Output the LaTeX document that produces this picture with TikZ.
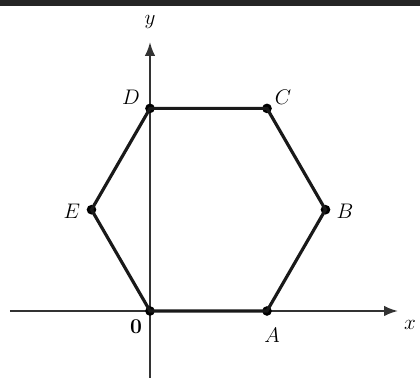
\documentclass[tikz,border=0pt]{standalone}
\usetikzlibrary{arrows.meta,positioning}

\begin{document}
\begin{tikzpicture}[x=0.02cm, y=0.02cm, >=Latex, font=\large,
	   pt/.style={circle, fill=black, inner sep=0pt, minimum size=5.5pt},
	   lab/.style={font=\large, inner sep=1pt},
	   ax/.style={->, draw=black!80, line width=1.1pt},
	   hex/.style={draw=black!90, line width=1.8pt, line join=miter}]
	  \useasboundingbox (-150,-67) rectangle (270,311);
	  \fill[black!85] (-150,305) rectangle (270,311);
	  % axes
	  \coordinate (xl) at (-140,0);
	  \coordinate (xr) at (248,0);
	  \coordinate (yb) at (0,-67);
	  \coordinate (yt) at (0,269);
	  \draw[ax] (xl) -- (xr);
	  \draw[ax] (yb) -- (yt);
	  \node[lab] (xlab) at (260,-14) {$x$};
	  \node[lab] (ylab) at (0,289) {$y$};
	  % hexagon
	  \node[pt] (O) at (0,0) {};
	  \node[pt] (A) at (117,0) {};
	  \node[pt] (B) at (175.5,101.3) {};
	  \node[pt] (C) at (117,202.6) {};
	  \node[pt] (D) at (0,202.6) {};
	  \node[pt] (E) at (-58.5,101.3) {};
	  \draw[hex] (O.center) -- (A.center) -- (B.center) -- (C.center) -- (D.center) -- (E.center) -- cycle;
	  \node[lab] (Olab) at (-14,-16) {$\mathbf{0}$};
	  \node[lab] (Alab) at (122,-24) {$A$};
	  \node[lab] (Blab) at (195,100) {$B$};
	  \node[lab] (Clab) at (133,214) {$C$};
	  \node[lab] (Dlab) at (-19,214) {$D$};
	  \node[lab] (Elab) at (-78,100) {$E$};
	\end{tikzpicture}
\end{document}
